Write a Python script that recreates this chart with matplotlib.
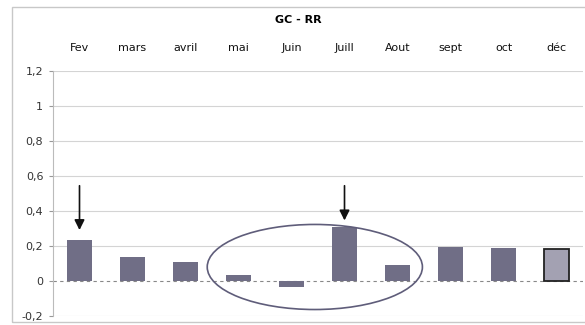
import matplotlib.pyplot as plt
from matplotlib.patches import Ellipse, Rectangle

# data
months = ['Fev', 'mars', 'avril', 'mai', 'Juin', 'Juill', 'Aout', 'sept', 'oct', 'déc']
values = [0.233, 0.137, 0.108, 0.034, -0.034, 0.309, 0.09, 0.194, 0.187, 0.185]
yticks = [-0.2, 0, 0.2, 0.4, 0.6, 0.8, 1, 1.2]
ytick_labels = ['-0,2', '0', '0,2', '0,4', '0,6', '0,8', '1', '1,2']

bar_col = '#706e86'
x = list(range(len(months)))

fig = plt.figure(figsize=(5.85, 3.25), dpi=100)
ax = fig.add_axes([0.0906, 0.0277, 0.906, 0.754])

# gridlines
for y in yticks:
    if y == 0:
        ax.axhline(y, color='#888888', lw=0.8, ls=(0, (3, 3)), zorder=1)
    else:
        ax.axhline(y, color='#d4d4d4', lw=0.8, zorder=0)

colors = [bar_col] * len(months)
colors[-1] = '#a3a1b2'
bars = ax.bar(x, values, width=0.46, color=colors, zorder=2)
bars[-1].set_edgecolor('#222222')
bars[-1].set_linewidth(1.3)

ax.set_xlim(-0.5, len(months) - 0.5)
ax.set_ylim(-0.2, 1.2)
ax.set_yticks(yticks)
ax.set_yticklabels(ytick_labels, fontsize=8, color='#333333')
ax.xaxis.tick_top()
ax.set_xticks(x)
ax.set_xticklabels(months, fontsize=8, color='#111111')
ax.tick_params(axis='x', length=0, pad=13)
ax.tick_params(axis='y', length=3, color='#999999', pad=4)
for s in ['top', 'right', 'bottom']:
    ax.spines[s].set_visible(False)
ax.spines['left'].set_color('#bbbbbb')
ax.spines['left'].set_linewidth(0.8)

# annotations: arrows and ellipse
arrow = dict(arrowstyle='-|>', color='#111111', lw=1.2, mutation_scale=15)
ax.annotate('', xy=(0, 0.275), xytext=(0, 0.56), arrowprops=arrow)
ax.annotate('', xy=(5, 0.33), xytext=(5, 0.56), arrowprops=arrow)
ax.add_patch(Ellipse((4.44, 0.08), 4.06, 0.486, fill=False,
                     edgecolor='#5f5d7a', lw=1.2, zorder=3))

fig.text(0.51, 0.938, 'GC - RR', ha='center', va='center',
         fontsize=8, fontweight='bold')

# outer frame of the chart
fig.patches.append(Rectangle((12 / 585, 0.01), 1.0, 0.968, transform=fig.transFigure,
                             fill=False, edgecolor='#c8c8c8', lw=1.0))

fig.savefig('out.png', dpi=100)
